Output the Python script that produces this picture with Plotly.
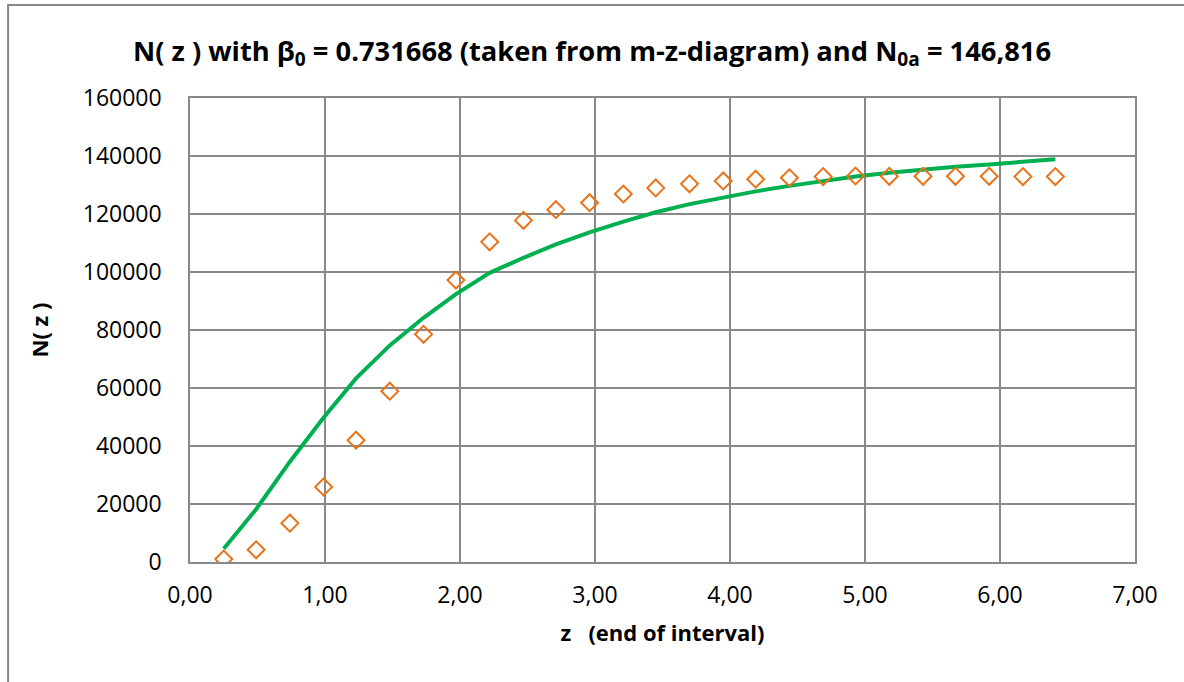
import plotly.graph_objects as go

z_end = [0.25, 0.49, 0.74, 0.99, 1.23, 1.48, 1.73, 1.97, 2.22, 2.47, 2.71, 2.96, 3.21,
         3.45, 3.70, 3.95, 4.19, 4.44, 4.69, 4.93, 5.18, 5.43, 5.67, 5.92, 6.17, 6.41]
n_observed = [1000, 4200, 13400, 25900, 42000, 58900, 78500, 97200, 110400, 117800,
              121500, 123900, 126900, 129000, 130400, 131400, 132000, 132500, 132900,
              133100, 133000, 133000, 133000, 133000, 132900, 132900]
n_model = [4600, 18200, 34600, 49800, 63300, 74700, 84200, 92400, 99700, 104900,
           109500, 113700, 117400, 120600, 123400, 125800, 127800, 129700, 131400,
           132900, 134200, 135300, 136300, 137100, 138000, 138900]

x_ticks = [0, 1, 2, 3, 4, 5, 6, 7]
y_ticks = [0, 20000, 40000, 60000, 80000, 100000, 120000, 140000, 160000]

FONT = "Open Sans"
GRID = "#898989"

fig = go.Figure()
fig.add_trace(go.Scatter(x=z_end, y=n_model, mode="lines",
                         line=dict(color="#00B050", width=4), showlegend=False))
fig.add_trace(go.Scatter(x=z_end, y=n_observed, mode="markers",
                         marker=dict(symbol="diamond-open", size=13, color="#E8731A",
                                     line=dict(width=2, color="#E8731A")),
                         showlegend=False))

fig.update_layout(
    width=1184, height=682,
    margin=dict(l=190, r=49, t=98, b=120),
    paper_bgcolor="white", plot_bgcolor="white",
    separators=",.",
    title=dict(text="N( z ) with β<sub>0</sub> = 0.731668 (taken from m-z-diagram) and N<sub>0a</sub> = 146,816",
               x=0.5, xanchor="center", y=0.925, yanchor="middle",
               font=dict(family=FONT, size=27.3, color="black", weight="bold")),
    font=dict(family=FONT, color="black"),
)
fig.update_xaxes(range=[0, 7], tickvals=x_ticks, tickformat=".2f",
                 showgrid=True, gridcolor=GRID, gridwidth=1.5,
                 showline=True, linecolor=GRID, linewidth=1.5, mirror=True,
                 zeroline=False, ticks="", ticklabelstandoff=12,
                 tickfont=dict(family=FONT, size=23, color="black"),
                 title=dict(text="z   (end of interval)", standoff=16,
                            font=dict(family=FONT, size=22, color="black", weight="bold")))
fig.update_yaxes(range=[0, 160000], tickvals=y_ticks, tickformat=".0f",
                 showgrid=True, gridcolor=GRID, gridwidth=1.5,
                 showline=True, linecolor=GRID, linewidth=1.5, mirror=True,
                 zeroline=False, ticks="", ticklabelstandoff=22,
                 tickfont=dict(family=FONT, size=23, color="black"),
                 title=dict(text="N( z )", standoff=28,
                            font=dict(family=FONT, size=22, color="black", weight="bold")))

fig.add_shape(type="rect", xref="paper", yref="paper",
              x0=-0.1925, x1=1.08, y0=-0.28, y1=1.2004,
              line=dict(color="#888888", width=2), fillcolor="rgba(0,0,0,0)", layer="below")

fig.write_html("out.html", config={"displayModeBar": False},
               post_script="document.body.style.margin='0';document.body.style.overflow='hidden';")
